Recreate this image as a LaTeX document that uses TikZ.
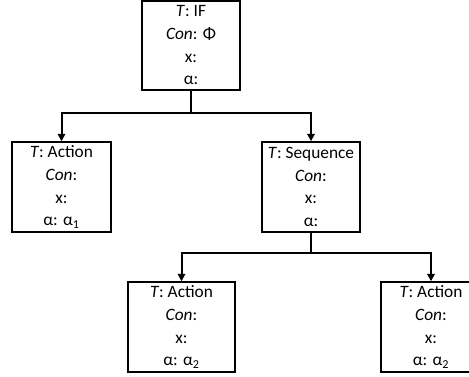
\documentclass[tikz,border=0pt]{standalone}
\usepackage{fontspec}
\setmainfont{Carlito}
\usetikzlibrary{arrows.meta}
\begin{document}
\begin{tikzpicture}[x=0.75pt,y=-0.75pt,
  nodebox/.style={draw=black, line width=1.1pt, fill=white, align=center,
    inner sep=0pt, font=\fontsize{13}{17}\selectfont},
  link/.style={line width=1.5pt, line cap=rect},
  arrowlink/.style={line width=1.5pt, -{Triangle[length=5.5pt,width=5.5pt]}}]
  \clip (0,0) rectangle (469,376);
  \useasboundingbox (0,0) rectangle (469,376);

  % nodes
  \node[nodebox, minimum width=98pt*0.75, minimum height=89pt*0.75] (ifnode) at (191,45.5)
    {\textit{T}: IF\\ \textit{Con}: Φ\\ x:\\ α:};
  \node[nodebox, minimum width=99pt*0.75, minimum height=90pt*0.75] (act1) at (61.5,187)
    {\textit{T}: Action\\ \textit{Con}:\\ x:\\ α: α\textsubscript{1}};
  \node[nodebox, minimum width=98pt*0.75, minimum height=90pt*0.75] (seq) at (311,187)
    {\textit{T}: Sequence\\ \textit{Con}:\\ x:\\ α:};
  \node[nodebox, minimum width=107pt*0.75, minimum height=90pt*0.75] (act2) at (181.5,327)
    {\textit{T}: Action\\ \textit{Con}:\\ x:\\ α: α\textsubscript{2}};
  \node[nodebox, minimum width=100pt*0.75, minimum height=90pt*0.75] (act3) at (431,327)
    {\textit{T}: Action\\ \textit{Con}:\\ x:\\ α: α\textsubscript{2}};

  % branch points
  \coordinate (j1) at (191,113);
  \coordinate (j2) at (311,253);

  % connectors
  \draw[link] (ifnode.south) -- (j1);
  \draw[arrowlink] (j1) -| (act1.north);
  \draw[arrowlink] (j1) -| (seq.north);
  \draw[link] (seq.south) -- (j2);
  \draw[arrowlink] (j2) -| (act2.north);
  \draw[arrowlink] (j2) -| (act3.north);
\end{tikzpicture}
\end{document}
